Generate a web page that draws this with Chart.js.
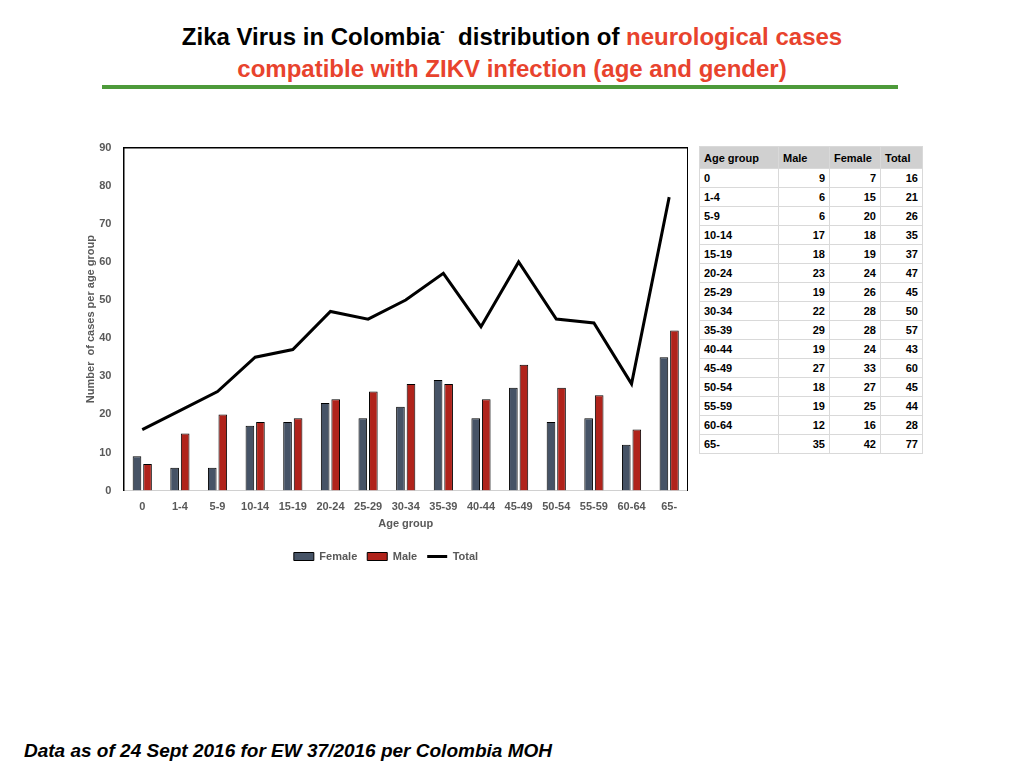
<!DOCTYPE html>
<html>
<head>
<meta charset="utf-8">
<script src="https://cdn.jsdelivr.net/npm/chart.js@4/dist/chart.umd.min.js"></script>
<style>
  body { margin: 0; width: 1024px; height: 768px; background: #fff; position: relative; overflow: hidden;
         font-family: "Liberation Sans", Arial, Helvetica, sans-serif; }
  #title { position: absolute; top: 15px; left: 0; width: 1024px; text-align: center;
           font-weight: bold; font-size: 24px; line-height: 32px; color: #000; }
  #title .red { color: #e8432d; }
  #rule { position: absolute; top: 85px; left: 102px; width: 796px; height: 4px; background: #4d9a3a; }
  #chart-box { position: absolute; left: 84px; top: 129px; width: 604px; height: 443px; }
  #data-table { position: absolute; left: 699px; top: 146px; border-collapse: collapse;
                font-size: 11px; font-weight: bold; color: #000; }
  #data-table th, #data-table td { border: 1px solid #d9d9d9; height: 18px; padding: 0 4px; }
  #data-table th { background: #d0d0d0; text-align: left; height: 21px; }
  #data-table td { text-align: right; }
  #data-table td:first-child { text-align: left; }
  #footer { position: absolute; left: 24px; top: 740px; font-size: 19px; font-weight: bold; font-style: italic; }
</style>
</head>
<body>
<div id="title">Zika Virus in Colombia<sup style="font-size:14px">-</sup>&nbsp; distribution of <span class="red">neurological cases</span><br><span class="red">compatible with ZIKV infection (age and gender)</span></div>
<div id="rule"></div>
<div id="chart-box"><canvas id="zika-chart"></canvas></div>
<table id="data-table">
  <thead><tr><th style="width:70px">Age group</th><th style="width:42px">Male</th><th style="width:42px">Female</th><th style="width:33px">Total</th></tr></thead>
  <tbody id="table-body"></tbody>
</table>
<div id="footer">Data as of 24 Sept 2016 for EW 37/2016 per Colombia MOH</div>

<script>
const ageGroups = ["0", "1-4", "5-9", "10-14", "15-19", "20-24", "25-29", "30-34", "35-39", "40-44", "45-49", "50-54", "55-59", "60-64", "65-"];
// columns as printed in the table on the slide
const maleCounts = [9, 6, 6, 17, 18, 23, 19, 22, 29, 19, 27, 18, 19, 12, 35];
const femaleCounts = [7, 15, 20, 18, 19, 24, 26, 28, 28, 24, 33, 27, 25, 16, 42];
const totalCounts = [16, 21, 26, 35, 37, 47, 45, 50, 57, 43, 60, 45, 44, 28, 77];
const yTicks = [0, 10, 20, 30, 40, 50, 60, 70, 80, 90];

const tableBody = document.querySelector("#table-body");
ageGroups.forEach((age, i) => {
    const row = document.createElement("tr");
    for (const val of [age, maleCounts[i], femaleCounts[i], totalCounts[i]]) {
        const cell = document.createElement("td");
        cell.textContent = val;
        row.appendChild(cell);
    }
    tableBody.appendChild(row);
});

const grey = "#595959";
const tickFont = { family: "'Liberation Sans', Arial", size: 11, weight: "bold" };

// the slide's chart plots the first table column in the dark "Female" series
const ctx = document.getElementById("zika-chart");
const chart = new Chart(ctx, {
    data: {
        labels: ageGroups,
        datasets: [
            {
                type: "bar",
                label: "Female",
                data: maleCounts,
                backgroundColor: "#465366",
                borderColor: "#000",
                borderWidth: 1,
                categoryPercentage: 0.56,
                barPercentage: 0.82,
                pointStyle: "rect",
                order: 2
            },
            {
                type: "bar",
                label: "Male",
                data: femaleCounts,
                backgroundColor: "#b0231b",
                borderColor: "#000",
                borderWidth: 1,
                categoryPercentage: 0.56,
                barPercentage: 0.82,
                pointStyle: "rect",
                order: 2
            },
            {
                type: "line",
                label: "Total",
                data: totalCounts,
                borderColor: "#000",
                backgroundColor: "#000",
                borderWidth: 3,
                pointRadius: 0,
                tension: 0,
                pointStyle: "line",
                order: 1
            }
        ]
    },
    options: {
        responsive: true,
        maintainAspectRatio: false,
        animation: false,
        layout: { padding: 0 },
        scales: {
            x: {
                grid: { display: false, drawTicks: false },
                border: { color: "#d0d0d0", width: 1 },
                ticks: { color: grey, font: tickFont, maxRotation: 0, autoSkip: false, padding: 10 },
                title: { display: true, text: "Age group", color: grey, font: tickFont, padding: { top: -6, bottom: 10 } }
            },
            xTop: {
                position: "top",
                grid: { display: false, drawTicks: false },
                border: { color: "#000", width: 1.5 },
                ticks: { display: false }
            },
            y: {
                min: 0,
                max: 90,
                afterBuildTicks: (axis) => { axis.ticks = yTicks.map(v => ({ value: v })); },
                grid: { display: false, drawTicks: false },
                border: { color: "#000", width: 1.5 },
                ticks: { color: grey, font: tickFont, padding: 12 },
                title: { display: true, text: "Number  of cases per age group", color: grey, font: tickFont, padding: { top: 0, bottom: -10 } }
            },
            yRight: {
                position: "right",
                min: 0,
                max: 90,
                grid: { display: false, drawTicks: false },
                border: { color: "#000", width: 1.5 },
                ticks: { display: false }
            }
        },
        plugins: {
            legend: {
                position: "bottom",
                labels: {
                    usePointStyle: true,
                    pointStyleWidth: 20,
                    boxHeight: 8,
                    color: grey,
                    font: tickFont,
                    padding: 10,
                    sort: (a, b) => a.datasetIndex - b.datasetIndex
                }
            },
            tooltip: { enabled: false }
        }
    }
});
</script>
</body>
</html>
